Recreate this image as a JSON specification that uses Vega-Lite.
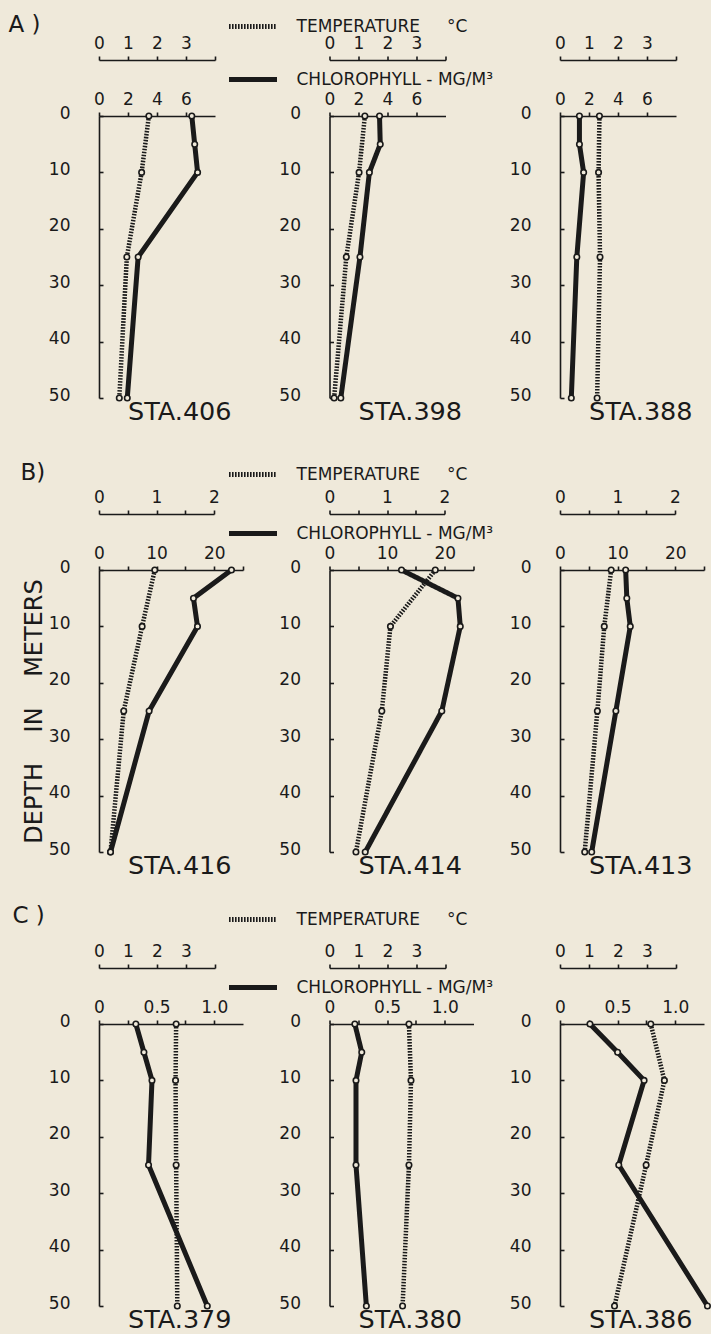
{
  "$schema": "https://vega.github.io/schema/vega-lite/v6.json",
  "background": "#efe9da",
  "padding": {"left": 8, "top": 0, "right": 0, "bottom": 0},
  "datasets": {
    "profiles": [
      {"sta": "STA.406", "var": "chlorophyll", "depth": 0, "value": 6.4},
      {"sta": "STA.406", "var": "chlorophyll", "depth": 5, "value": 6.6},
      {"sta": "STA.406", "var": "chlorophyll", "depth": 10, "value": 6.8},
      {"sta": "STA.406", "var": "chlorophyll", "depth": 25, "value": 2.7},
      {"sta": "STA.406", "var": "chlorophyll", "depth": 50, "value": 1.95},
      {"sta": "STA.406", "var": "temperature", "depth": 0, "value": 1.72},
      {"sta": "STA.406", "var": "temperature", "depth": 10, "value": 1.47},
      {"sta": "STA.406", "var": "temperature", "depth": 25, "value": 0.96},
      {"sta": "STA.406", "var": "temperature", "depth": 50, "value": 0.7},
      {"sta": "STA.398", "var": "chlorophyll", "depth": 0, "value": 3.45},
      {"sta": "STA.398", "var": "chlorophyll", "depth": 5, "value": 3.5},
      {"sta": "STA.398", "var": "chlorophyll", "depth": 10, "value": 2.75},
      {"sta": "STA.398", "var": "chlorophyll", "depth": 25, "value": 2.1},
      {"sta": "STA.398", "var": "chlorophyll", "depth": 50, "value": 0.78},
      {"sta": "STA.398", "var": "temperature", "depth": 0, "value": 1.22},
      {"sta": "STA.398", "var": "temperature", "depth": 10, "value": 1.02},
      {"sta": "STA.398", "var": "temperature", "depth": 25, "value": 0.58},
      {"sta": "STA.398", "var": "temperature", "depth": 50, "value": 0.16},
      {"sta": "STA.388", "var": "chlorophyll", "depth": 0, "value": 1.34},
      {"sta": "STA.388", "var": "chlorophyll", "depth": 5, "value": 1.34},
      {"sta": "STA.388", "var": "chlorophyll", "depth": 10, "value": 1.63},
      {"sta": "STA.388", "var": "chlorophyll", "depth": 25, "value": 1.16},
      {"sta": "STA.388", "var": "chlorophyll", "depth": 50, "value": 0.78},
      {"sta": "STA.388", "var": "temperature", "depth": 0, "value": 1.36},
      {"sta": "STA.388", "var": "temperature", "depth": 10, "value": 1.33},
      {"sta": "STA.388", "var": "temperature", "depth": 25, "value": 1.38},
      {"sta": "STA.388", "var": "temperature", "depth": 50, "value": 1.28},
      {"sta": "STA.416", "var": "chlorophyll", "depth": 0, "value": 23.0},
      {"sta": "STA.416", "var": "chlorophyll", "depth": 5, "value": 16.4},
      {"sta": "STA.416", "var": "chlorophyll", "depth": 10, "value": 17.1},
      {"sta": "STA.416", "var": "chlorophyll", "depth": 25, "value": 8.7},
      {"sta": "STA.416", "var": "chlorophyll", "depth": 50, "value": 2.0},
      {"sta": "STA.416", "var": "temperature", "depth": 0, "value": 0.97},
      {"sta": "STA.416", "var": "temperature", "depth": 10, "value": 0.75},
      {"sta": "STA.416", "var": "temperature", "depth": 25, "value": 0.43},
      {"sta": "STA.416", "var": "temperature", "depth": 50, "value": 0.2},
      {"sta": "STA.414", "var": "chlorophyll", "depth": 0, "value": 12.5},
      {"sta": "STA.414", "var": "chlorophyll", "depth": 5, "value": 22.3},
      {"sta": "STA.414", "var": "chlorophyll", "depth": 10, "value": 22.7},
      {"sta": "STA.414", "var": "chlorophyll", "depth": 25, "value": 19.5},
      {"sta": "STA.414", "var": "chlorophyll", "depth": 50, "value": 6.2},
      {"sta": "STA.414", "var": "temperature", "depth": 0, "value": 1.84},
      {"sta": "STA.414", "var": "temperature", "depth": 10, "value": 1.06},
      {"sta": "STA.414", "var": "temperature", "depth": 25, "value": 0.91},
      {"sta": "STA.414", "var": "temperature", "depth": 50, "value": 0.46},
      {"sta": "STA.413", "var": "chlorophyll", "depth": 0, "value": 11.4},
      {"sta": "STA.413", "var": "chlorophyll", "depth": 5, "value": 11.6},
      {"sta": "STA.413", "var": "chlorophyll", "depth": 10, "value": 12.2},
      {"sta": "STA.413", "var": "chlorophyll", "depth": 25, "value": 9.7},
      {"sta": "STA.413", "var": "chlorophyll", "depth": 50, "value": 5.5},
      {"sta": "STA.413", "var": "temperature", "depth": 0, "value": 0.89},
      {"sta": "STA.413", "var": "temperature", "depth": 10, "value": 0.77},
      {"sta": "STA.413", "var": "temperature", "depth": 25, "value": 0.65},
      {"sta": "STA.413", "var": "temperature", "depth": 50, "value": 0.43},
      {"sta": "STA.379", "var": "chlorophyll", "depth": 0, "value": 0.32},
      {"sta": "STA.379", "var": "chlorophyll", "depth": 5, "value": 0.39},
      {"sta": "STA.379", "var": "chlorophyll", "depth": 10, "value": 0.46},
      {"sta": "STA.379", "var": "chlorophyll", "depth": 25, "value": 0.43},
      {"sta": "STA.379", "var": "chlorophyll", "depth": 50, "value": 0.94},
      {"sta": "STA.379", "var": "temperature", "depth": 0, "value": 2.66},
      {"sta": "STA.379", "var": "temperature", "depth": 10, "value": 2.64},
      {"sta": "STA.379", "var": "temperature", "depth": 25, "value": 2.66},
      {"sta": "STA.379", "var": "temperature", "depth": 50, "value": 2.7},
      {"sta": "STA.380", "var": "chlorophyll", "depth": 0, "value": 0.22},
      {"sta": "STA.380", "var": "chlorophyll", "depth": 5, "value": 0.28},
      {"sta": "STA.380", "var": "chlorophyll", "depth": 10, "value": 0.23},
      {"sta": "STA.380", "var": "chlorophyll", "depth": 25, "value": 0.23},
      {"sta": "STA.380", "var": "chlorophyll", "depth": 50, "value": 0.32},
      {"sta": "STA.380", "var": "temperature", "depth": 0, "value": 2.74},
      {"sta": "STA.380", "var": "temperature", "depth": 10, "value": 2.81},
      {"sta": "STA.380", "var": "temperature", "depth": 25, "value": 2.74},
      {"sta": "STA.380", "var": "temperature", "depth": 50, "value": 2.52},
      {"sta": "STA.386", "var": "chlorophyll", "depth": 0, "value": 0.26},
      {"sta": "STA.386", "var": "chlorophyll", "depth": 5, "value": 0.5},
      {"sta": "STA.386", "var": "chlorophyll", "depth": 10, "value": 0.73},
      {"sta": "STA.386", "var": "chlorophyll", "depth": 25, "value": 0.51},
      {"sta": "STA.386", "var": "chlorophyll", "depth": 50, "value": 1.28},
      {"sta": "STA.386", "var": "temperature", "depth": 0, "value": 3.13},
      {"sta": "STA.386", "var": "temperature", "depth": 10, "value": 3.6},
      {"sta": "STA.386", "var": "temperature", "depth": 25, "value": 2.97},
      {"sta": "STA.386", "var": "temperature", "depth": 50, "value": 1.88}
    ]
  },
  "data": {"name": "profiles"},
  "config": {
    "view": {"stroke": null},
    "font": "DejaVu Sans",
    "axis": {
      "grid": false, "domainColor": "#1a1a1a", "domainWidth": 1.6,
      "tickColor": "#1a1a1a", "tickWidth": 1.6, "labelColor": "#1a1a1a",
      "labelFont": "DejaVu Sans", "labelFontSize": 17, "labelFlush": false,
      "labelOverlap": false, "titleColor": "#1a1a1a", "titleFont": "DejaVu Sans",
      "titleFontWeight": "normal"
    },
    "axisTop": {"tickSize": 4, "labelPadding": 4},
    "axisLeft": {"tickSize": -4, "labelPadding": 33, "labelOffset": -3},
    "title": {
      "orient": "bottom", "anchor": "start", "frame": "group", "dx": 29, "offset": -8,
      "fontSize": 25.5, "fontWeight": "normal", "font": "DejaVu Sans", "color": "#1a1a1a"
    }
  },
  "spacing": 454,
  "bounds": "flush",
  "resolve": {
    "scale": {"x": "independent", "y": "independent", "strokeDash": "independent"},
    "legend": {"strokeDash": "independent"}
  },
  "vconcat": [
    {
      "spacing": 114.5,
      "bounds": "flush",
      "resolve": {
        "scale": {"x": "independent", "y": "independent", "strokeDash": "independent"},
        "legend": {"strokeDash": "independent"}
      },
      "hconcat": [
        {
          "width": 116, "height": 282,
          "title": {"text": "STA.406"},
          "transform": [{"filter": "datum.sta === 'STA.406'"}],
          "layer": [
            {
              "transform": [{"filter": "datum.var === 'temperature'"}],
              "encoding": {
                "x": {"field": "value", "type": "quantitative", "scale": {"domain": [0, 4], "nice": false, "zero": false},
                      "axis": {"orient": "top", "offset": 56, "values": [0, 1, 2, 3, 4], "labelExpr": "datum.value == 4 ? '' : datum.label",
                               "title": "A )", "titleX": -91, "titleY": -29, "titleAlign": "left", "titleAngle": 0, "titleBaseline": "alphabetic", "titleFontSize": 23}},
                "y": {"field": "depth", "type": "quantitative", "scale": {"domain": [0, 50], "reverse": true, "nice": false, "zero": false},
                      "axis": {"values": [0, 10, 20, 30, 40, 50], "title": null}},
                "order": {"field": "depth", "type": "quantitative"}
              },
              "layer": [
                {"mark": {"type": "line", "color": "#1a1a1a", "strokeWidth": 4.5, "strokeDash": [1.6, 1.4]}},
                {"mark": {"type": "point", "shape": "circle", "filled": true, "fill": "#efe9da", "stroke": "#1a1a1a", "strokeWidth": 1.6, "size": 30, "opacity": 1}}
              ]
            },
            {
              "transform": [{"filter": "datum.var === 'chlorophyll'"}],
              "encoding": {
                "x": {"field": "value", "type": "quantitative", "scale": {"domain": [0, 8], "nice": false, "zero": false},
                      "axis": {"orient": "top", "offset": 0, "values": [0, 2, 4, 6], "title": null}},
                "y": {"field": "depth", "type": "quantitative", "scale": {"domain": [0, 50], "reverse": true, "nice": false, "zero": false},
                      "axis": {"values": [0, 10, 20, 30, 40, 50], "title": null}},
                "order": {"field": "depth", "type": "quantitative"}
              },
              "layer": [
                {"mark": {"type": "line", "color": "#1a1a1a", "strokeWidth": 5}},
                {"mark": {"type": "point", "shape": "circle", "filled": true, "fill": "#efe9da", "stroke": "#1a1a1a", "strokeWidth": 1.6, "size": 30, "opacity": 1}}
              ]
            }
          ],
          "resolve": {"scale": {"x": "independent"}, "axis": {"x": "independent"}}
        },
        {
          "width": 116, "height": 282,
          "title": {"text": "STA.398"},
          "transform": [{"filter": "datum.sta === 'STA.398'"}],
          "layer": [
            {
              "transform": [{"filter": "datum.var === 'temperature'"}],
              "encoding": {
                "x": {"field": "value", "type": "quantitative", "scale": {"domain": [0, 4], "nice": false, "zero": false},
                      "axis": {"orient": "top", "offset": 56, "values": [0, 1, 2, 3, 4], "labelExpr": "datum.value == 4 ? '' : datum.label", "title": null}},
                "y": {"field": "depth", "type": "quantitative", "scale": {"domain": [0, 50], "reverse": true, "nice": false, "zero": false},
                      "axis": {"values": [0, 10, 20, 30, 40, 50], "title": null}},
                "order": {"field": "depth", "type": "quantitative"}
              },
              "layer": [
                {"mark": {"type": "line", "color": "#1a1a1a", "strokeWidth": 4.5, "strokeDash": [1.6, 1.4]},
                 "encoding": {"strokeDash": {"field": "var", "type": "nominal",
                   "scale": {"domain": ["temperature", "chlorophyll"], "range": [[1.6, 1.4], [1, 0]]},
                   "legend": {"orient": "none", "legendX": -103, "legendY": -116, "title": null, "direction": "vertical",
                              "symbolType": "stroke", "symbolSize": 2304, "symbolStrokeWidth": 5, "symbolStrokeColor": "#1a1a1a",
                              "labelFontSize": 17, "labelFont": "DejaVu Sans", "labelColor": "#1a1a1a", "labelOffset": 17,
                              "labelLimit": 400, "rowPadding": 16, "padding": 0,
                              "labelExpr": "datum.value === 'temperature' ? 'TEMPERATURE\u00a0\u00a0\u00a0\u00a0\u00a0°C' : 'CHLOROPHYLL\u00a0-\u00a0MG/M³'"}}}},
                {"mark": {"type": "point", "shape": "circle", "filled": true, "fill": "#efe9da", "stroke": "#1a1a1a", "strokeWidth": 1.6, "size": 30, "opacity": 1}}
              ]
            },
            {
              "transform": [{"filter": "datum.var === 'chlorophyll'"}],
              "encoding": {
                "x": {"field": "value", "type": "quantitative", "scale": {"domain": [0, 8], "nice": false, "zero": false},
                      "axis": {"orient": "top", "offset": 0, "values": [0, 2, 4, 6], "title": null}},
                "y": {"field": "depth", "type": "quantitative", "scale": {"domain": [0, 50], "reverse": true, "nice": false, "zero": false},
                      "axis": {"values": [0, 10, 20, 30, 40, 50], "title": null}},
                "order": {"field": "depth", "type": "quantitative"}
              },
              "layer": [
                {"mark": {"type": "line", "color": "#1a1a1a", "strokeWidth": 5},
                 "encoding": {"strokeDash": {"field": "var", "type": "nominal",
                   "scale": {"domain": ["temperature", "chlorophyll"], "range": [[1.6, 1.4], [1, 0]]},
                   "legend": {"orient": "none", "legendX": -103, "legendY": -116, "title": null, "direction": "vertical",
                              "symbolType": "stroke", "symbolSize": 2304, "symbolStrokeWidth": 5, "symbolStrokeColor": "#1a1a1a",
                              "labelFontSize": 17, "labelFont": "DejaVu Sans", "labelColor": "#1a1a1a", "labelOffset": 17,
                              "labelLimit": 400, "rowPadding": 16, "padding": 0,
                              "labelExpr": "datum.value === 'temperature' ? 'TEMPERATURE\u00a0\u00a0\u00a0\u00a0\u00a0°C' : 'CHLOROPHYLL\u00a0-\u00a0MG/M³'"}}}},
                {"mark": {"type": "point", "shape": "circle", "filled": true, "fill": "#efe9da", "stroke": "#1a1a1a", "strokeWidth": 1.6, "size": 30, "opacity": 1}}
              ]
            }
          ],
          "resolve": {"scale": {"x": "independent"}, "axis": {"x": "independent"}}
        },
        {
          "width": 116, "height": 282,
          "title": {"text": "STA.388"},
          "transform": [{"filter": "datum.sta === 'STA.388'"}],
          "layer": [
            {
              "transform": [{"filter": "datum.var === 'temperature'"}],
              "encoding": {
                "x": {"field": "value", "type": "quantitative", "scale": {"domain": [0, 4], "nice": false, "zero": false},
                      "axis": {"orient": "top", "offset": 56, "values": [0, 1, 2, 3, 4], "labelExpr": "datum.value == 4 ? '' : datum.label", "title": null}},
                "y": {"field": "depth", "type": "quantitative", "scale": {"domain": [0, 50], "reverse": true, "nice": false, "zero": false},
                      "axis": {"values": [0, 10, 20, 30, 40, 50], "title": null}},
                "order": {"field": "depth", "type": "quantitative"}
              },
              "layer": [
                {"mark": {"type": "line", "color": "#1a1a1a", "strokeWidth": 4.5, "strokeDash": [1.6, 1.4]}},
                {"mark": {"type": "point", "shape": "circle", "filled": true, "fill": "#efe9da", "stroke": "#1a1a1a", "strokeWidth": 1.6, "size": 30, "opacity": 1}}
              ]
            },
            {
              "transform": [{"filter": "datum.var === 'chlorophyll'"}],
              "encoding": {
                "x": {"field": "value", "type": "quantitative", "scale": {"domain": [0, 8], "nice": false, "zero": false},
                      "axis": {"orient": "top", "offset": 0, "values": [0, 2, 4, 6], "title": null}},
                "y": {"field": "depth", "type": "quantitative", "scale": {"domain": [0, 50], "reverse": true, "nice": false, "zero": false},
                      "axis": {"values": [0, 10, 20, 30, 40, 50], "title": null}},
                "order": {"field": "depth", "type": "quantitative"}
              },
              "layer": [
                {"mark": {"type": "line", "color": "#1a1a1a", "strokeWidth": 5}},
                {"mark": {"type": "point", "shape": "circle", "filled": true, "fill": "#efe9da", "stroke": "#1a1a1a", "strokeWidth": 1.6, "size": 30, "opacity": 1}}
              ]
            }
          ],
          "resolve": {"scale": {"x": "independent"}, "axis": {"x": "independent"}}
        }
      ]
    },
    {
      "spacing": 86.5,
      "bounds": "flush",
      "resolve": {
        "scale": {"x": "independent", "y": "independent", "strokeDash": "independent"},
        "legend": {"strokeDash": "independent"}
      },
      "hconcat": [
        {
          "width": 144, "height": 282,
          "title": {"text": "STA.416"},
          "transform": [{"filter": "datum.sta === 'STA.416'"}],
          "layer": [
            {
              "transform": [{"filter": "datum.var === 'temperature'"}],
              "encoding": {
                "x": {"field": "value", "type": "quantitative", "scale": {"domain": [0, 2], "range": [0, 115], "nice": false, "zero": false},
                      "axis": {"orient": "top", "offset": 56, "values": [0, 0.5, 1, 1.5, 2], "labelExpr": "datum.value == 0 ? '0' : datum.value == 1 ? '1' : datum.value == 2 ? '2' : ''",
                               "title": "B)", "titleX": -79, "titleY": -35, "titleAlign": "left", "titleAngle": 0, "titleBaseline": "alphabetic", "titleFontSize": 23}},
                "y": {"field": "depth", "type": "quantitative", "scale": {"domain": [0, 50], "reverse": true, "nice": false, "zero": false},
                      "axis": {"values": [0, 10, 20, 30, 40, 50], "title": "DEPTH\u00a0\u00a0\u00a0\u00a0IN\u00a0\u00a0\u00a0\u00a0METERS", "titleFontSize": 24, "titlePadding": 2}},
                "order": {"field": "depth", "type": "quantitative"}
              },
              "layer": [
                {"mark": {"type": "line", "color": "#1a1a1a", "strokeWidth": 4.5, "strokeDash": [1.6, 1.4]}},
                {"mark": {"type": "point", "shape": "circle", "filled": true, "fill": "#efe9da", "stroke": "#1a1a1a", "strokeWidth": 1.6, "size": 30, "opacity": 1}}
              ]
            },
            {
              "transform": [{"filter": "datum.var === 'chlorophyll'"}],
              "encoding": {
                "x": {"field": "value", "type": "quantitative", "scale": {"domain": [0, 25], "nice": false, "zero": false},
                      "axis": {"orient": "top", "offset": 0, "values": [0, 5, 10, 15, 20, 25], "labelExpr": "datum.value % 10 == 0 ? datum.label : ''", "title": null}},
                "y": {"field": "depth", "type": "quantitative", "scale": {"domain": [0, 50], "reverse": true, "nice": false, "zero": false},
                      "axis": {"values": [0, 10, 20, 30, 40, 50], "title": "DEPTH\u00a0\u00a0\u00a0\u00a0IN\u00a0\u00a0\u00a0\u00a0METERS", "titleFontSize": 24, "titlePadding": 2}},
                "order": {"field": "depth", "type": "quantitative"}
              },
              "layer": [
                {"mark": {"type": "line", "color": "#1a1a1a", "strokeWidth": 5}},
                {"mark": {"type": "point", "shape": "circle", "filled": true, "fill": "#efe9da", "stroke": "#1a1a1a", "strokeWidth": 1.6, "size": 30, "opacity": 1}}
              ]
            }
          ],
          "resolve": {"scale": {"x": "independent"}, "axis": {"x": "independent"}}
        },
        {
          "width": 144, "height": 282,
          "title": {"text": "STA.414"},
          "transform": [{"filter": "datum.sta === 'STA.414'"}],
          "layer": [
            {
              "transform": [{"filter": "datum.var === 'temperature'"}],
              "encoding": {
                "x": {"field": "value", "type": "quantitative", "scale": {"domain": [0, 2], "range": [0, 115], "nice": false, "zero": false},
                      "axis": {"orient": "top", "offset": 56, "values": [0, 0.5, 1, 1.5, 2], "labelExpr": "datum.value == 0 ? '0' : datum.value == 1 ? '1' : datum.value == 2 ? '2' : ''", "title": null}},
                "y": {"field": "depth", "type": "quantitative", "scale": {"domain": [0, 50], "reverse": true, "nice": false, "zero": false},
                      "axis": {"values": [0, 10, 20, 30, 40, 50], "title": null}},
                "order": {"field": "depth", "type": "quantitative"}
              },
              "layer": [
                {"mark": {"type": "line", "color": "#1a1a1a", "strokeWidth": 4.5, "strokeDash": [1.6, 1.4]},
                 "encoding": {"strokeDash": {"field": "var", "type": "nominal",
                   "scale": {"domain": ["temperature", "chlorophyll"], "range": [[1.6, 1.4], [1, 0]]},
                   "legend": {"orient": "none", "legendX": -103, "legendY": -122, "title": null, "direction": "vertical",
                              "symbolType": "stroke", "symbolSize": 2304, "symbolStrokeWidth": 5, "symbolStrokeColor": "#1a1a1a",
                              "labelFontSize": 17, "labelFont": "DejaVu Sans", "labelColor": "#1a1a1a", "labelOffset": 17,
                              "labelLimit": 400, "rowPadding": 22, "padding": 0,
                              "labelExpr": "datum.value === 'temperature' ? 'TEMPERATURE\u00a0\u00a0\u00a0\u00a0\u00a0°C' : 'CHLOROPHYLL\u00a0-\u00a0MG/M³'"}}}},
                {"mark": {"type": "point", "shape": "circle", "filled": true, "fill": "#efe9da", "stroke": "#1a1a1a", "strokeWidth": 1.6, "size": 30, "opacity": 1}}
              ]
            },
            {
              "transform": [{"filter": "datum.var === 'chlorophyll'"}],
              "encoding": {
                "x": {"field": "value", "type": "quantitative", "scale": {"domain": [0, 25], "nice": false, "zero": false},
                      "axis": {"orient": "top", "offset": 0, "values": [0, 5, 10, 15, 20, 25], "labelExpr": "datum.value % 10 == 0 ? datum.label : ''", "title": null}},
                "y": {"field": "depth", "type": "quantitative", "scale": {"domain": [0, 50], "reverse": true, "nice": false, "zero": false},
                      "axis": {"values": [0, 10, 20, 30, 40, 50], "title": null}},
                "order": {"field": "depth", "type": "quantitative"}
              },
              "layer": [
                {"mark": {"type": "line", "color": "#1a1a1a", "strokeWidth": 5},
                 "encoding": {"strokeDash": {"field": "var", "type": "nominal",
                   "scale": {"domain": ["temperature", "chlorophyll"], "range": [[1.6, 1.4], [1, 0]]},
                   "legend": {"orient": "none", "legendX": -103, "legendY": -122, "title": null, "direction": "vertical",
                              "symbolType": "stroke", "symbolSize": 2304, "symbolStrokeWidth": 5, "symbolStrokeColor": "#1a1a1a",
                              "labelFontSize": 17, "labelFont": "DejaVu Sans", "labelColor": "#1a1a1a", "labelOffset": 17,
                              "labelLimit": 400, "rowPadding": 22, "padding": 0,
                              "labelExpr": "datum.value === 'temperature' ? 'TEMPERATURE\u00a0\u00a0\u00a0\u00a0\u00a0°C' : 'CHLOROPHYLL\u00a0-\u00a0MG/M³'"}}}},
                {"mark": {"type": "point", "shape": "circle", "filled": true, "fill": "#efe9da", "stroke": "#1a1a1a", "strokeWidth": 1.6, "size": 30, "opacity": 1}}
              ]
            }
          ],
          "resolve": {"scale": {"x": "independent"}, "axis": {"x": "independent"}}
        },
        {
          "width": 144, "height": 282,
          "title": {"text": "STA.413"},
          "transform": [{"filter": "datum.sta === 'STA.413'"}],
          "layer": [
            {
              "transform": [{"filter": "datum.var === 'temperature'"}],
              "encoding": {
                "x": {"field": "value", "type": "quantitative", "scale": {"domain": [0, 2], "range": [0, 115], "nice": false, "zero": false},
                      "axis": {"orient": "top", "offset": 56, "values": [0, 0.5, 1, 1.5, 2], "labelExpr": "datum.value == 0 ? '0' : datum.value == 1 ? '1' : datum.value == 2 ? '2' : ''", "title": null}},
                "y": {"field": "depth", "type": "quantitative", "scale": {"domain": [0, 50], "reverse": true, "nice": false, "zero": false},
                      "axis": {"values": [0, 10, 20, 30, 40, 50], "title": null}},
                "order": {"field": "depth", "type": "quantitative"}
              },
              "layer": [
                {"mark": {"type": "line", "color": "#1a1a1a", "strokeWidth": 4.5, "strokeDash": [1.6, 1.4]}},
                {"mark": {"type": "point", "shape": "circle", "filled": true, "fill": "#efe9da", "stroke": "#1a1a1a", "strokeWidth": 1.6, "size": 30, "opacity": 1}}
              ]
            },
            {
              "transform": [{"filter": "datum.var === 'chlorophyll'"}],
              "encoding": {
                "x": {"field": "value", "type": "quantitative", "scale": {"domain": [0, 25], "nice": false, "zero": false},
                      "axis": {"orient": "top", "offset": 0, "values": [0, 5, 10, 15, 20, 25], "labelExpr": "datum.value % 10 == 0 ? datum.label : ''", "title": null}},
                "y": {"field": "depth", "type": "quantitative", "scale": {"domain": [0, 50], "reverse": true, "nice": false, "zero": false},
                      "axis": {"values": [0, 10, 20, 30, 40, 50], "title": null}},
                "order": {"field": "depth", "type": "quantitative"}
              },
              "layer": [
                {"mark": {"type": "line", "color": "#1a1a1a", "strokeWidth": 5}},
                {"mark": {"type": "point", "shape": "circle", "filled": true, "fill": "#efe9da", "stroke": "#1a1a1a", "strokeWidth": 1.6, "size": 30, "opacity": 1}}
              ]
            }
          ],
          "resolve": {"scale": {"x": "independent"}, "axis": {"x": "independent"}}
        }
      ]
    },
    {
      "spacing": 86.5,
      "bounds": "flush",
      "resolve": {
        "scale": {"x": "independent", "y": "independent", "strokeDash": "independent"},
        "legend": {"strokeDash": "independent"}
      },
      "hconcat": [
        {
          "width": 144, "height": 282,
          "title": {"text": "STA.379"},
          "transform": [{"filter": "datum.sta === 'STA.379'"}],
          "layer": [
            {
              "transform": [{"filter": "datum.var === 'temperature'"}],
              "encoding": {
                "x": {"field": "value", "type": "quantitative", "scale": {"domain": [0, 4], "range": [0, 116], "nice": false, "zero": false},
                      "axis": {"orient": "top", "offset": 56, "values": [0, 1, 2, 3, 4], "labelExpr": "datum.value == 4 ? '' : datum.label",
                               "title": "C )", "titleX": -87, "titleY": -46, "titleAlign": "left", "titleAngle": 0, "titleBaseline": "alphabetic", "titleFontSize": 23}},
                "y": {"field": "depth", "type": "quantitative", "scale": {"domain": [0, 50], "reverse": true, "nice": false, "zero": false},
                      "axis": {"values": [0, 10, 20, 30, 40, 50], "title": null}},
                "order": {"field": "depth", "type": "quantitative"}
              },
              "layer": [
                {"mark": {"type": "line", "color": "#1a1a1a", "strokeWidth": 4.5, "strokeDash": [1.6, 1.4]}},
                {"mark": {"type": "point", "shape": "circle", "filled": true, "fill": "#efe9da", "stroke": "#1a1a1a", "strokeWidth": 1.6, "size": 30, "opacity": 1}}
              ]
            },
            {
              "transform": [{"filter": "datum.var === 'chlorophyll'"}],
              "encoding": {
                "x": {"field": "value", "type": "quantitative", "scale": {"domain": [0, 1.25], "nice": false, "zero": false},
                      "axis": {"orient": "top", "offset": 0, "values": [0, 0.25, 0.5, 0.75, 1], "labelExpr": "datum.value == 0 ? '0' : datum.value == 0.5 ? '0.5' : datum.value == 1 ? '1.0' : ''", "title": null}},
                "y": {"field": "depth", "type": "quantitative", "scale": {"domain": [0, 50], "reverse": true, "nice": false, "zero": false},
                      "axis": {"values": [0, 10, 20, 30, 40, 50], "title": null}},
                "order": {"field": "depth", "type": "quantitative"}
              },
              "layer": [
                {"mark": {"type": "line", "color": "#1a1a1a", "strokeWidth": 5}},
                {"mark": {"type": "point", "shape": "circle", "filled": true, "fill": "#efe9da", "stroke": "#1a1a1a", "strokeWidth": 1.6, "size": 30, "opacity": 1}}
              ]
            }
          ],
          "resolve": {"scale": {"x": "independent"}, "axis": {"x": "independent"}}
        },
        {
          "width": 144, "height": 282,
          "title": {"text": "STA.380"},
          "transform": [{"filter": "datum.sta === 'STA.380'"}],
          "layer": [
            {
              "transform": [{"filter": "datum.var === 'temperature'"}],
              "encoding": {
                "x": {"field": "value", "type": "quantitative", "scale": {"domain": [0, 4], "range": [0, 116], "nice": false, "zero": false},
                      "axis": {"orient": "top", "offset": 56, "values": [0, 1, 2, 3, 4], "labelExpr": "datum.value == 4 ? '' : datum.label", "title": null}},
                "y": {"field": "depth", "type": "quantitative", "scale": {"domain": [0, 50], "reverse": true, "nice": false, "zero": false},
                      "axis": {"values": [0, 10, 20, 30, 40, 50], "title": null}},
                "order": {"field": "depth", "type": "quantitative"}
              },
              "layer": [
                {"mark": {"type": "line", "color": "#1a1a1a", "strokeWidth": 4.5, "strokeDash": [1.6, 1.4]},
                 "encoding": {"strokeDash": {"field": "var", "type": "nominal",
                   "scale": {"domain": ["temperature", "chlorophyll"], "range": [[1.6, 1.4], [1, 0]]},
                   "legend": {"orient": "none", "legendX": -103, "legendY": -131, "title": null, "direction": "vertical",
                              "symbolType": "stroke", "symbolSize": 2304, "symbolStrokeWidth": 5, "symbolStrokeColor": "#1a1a1a",
                              "labelFontSize": 17, "labelFont": "DejaVu Sans", "labelColor": "#1a1a1a", "labelOffset": 17,
                              "labelLimit": 400, "rowPadding": 31, "padding": 0,
                              "labelExpr": "datum.value === 'temperature' ? 'TEMPERATURE\u00a0\u00a0\u00a0\u00a0\u00a0°C' : 'CHLOROPHYLL\u00a0-\u00a0MG/M³'"}}}},
                {"mark": {"type": "point", "shape": "circle", "filled": true, "fill": "#efe9da", "stroke": "#1a1a1a", "strokeWidth": 1.6, "size": 30, "opacity": 1}}
              ]
            },
            {
              "transform": [{"filter": "datum.var === 'chlorophyll'"}],
              "encoding": {
                "x": {"field": "value", "type": "quantitative", "scale": {"domain": [0, 1.25], "nice": false, "zero": false},
                      "axis": {"orient": "top", "offset": 0, "values": [0, 0.25, 0.5, 0.75, 1], "labelExpr": "datum.value == 0 ? '0' : datum.value == 0.5 ? '0.5' : datum.value == 1 ? '1.0' : ''", "title": null}},
                "y": {"field": "depth", "type": "quantitative", "scale": {"domain": [0, 50], "reverse": true, "nice": false, "zero": false},
                      "axis": {"values": [0, 10, 20, 30, 40, 50], "title": null}},
                "order": {"field": "depth", "type": "quantitative"}
              },
              "layer": [
                {"mark": {"type": "line", "color": "#1a1a1a", "strokeWidth": 5},
                 "encoding": {"strokeDash": {"field": "var", "type": "nominal",
                   "scale": {"domain": ["temperature", "chlorophyll"], "range": [[1.6, 1.4], [1, 0]]},
                   "legend": {"orient": "none", "legendX": -103, "legendY": -131, "title": null, "direction": "vertical",
                              "symbolType": "stroke", "symbolSize": 2304, "symbolStrokeWidth": 5, "symbolStrokeColor": "#1a1a1a",
                              "labelFontSize": 17, "labelFont": "DejaVu Sans", "labelColor": "#1a1a1a", "labelOffset": 17,
                              "labelLimit": 400, "rowPadding": 31, "padding": 0,
                              "labelExpr": "datum.value === 'temperature' ? 'TEMPERATURE\u00a0\u00a0\u00a0\u00a0\u00a0°C' : 'CHLOROPHYLL\u00a0-\u00a0MG/M³'"}}}},
                {"mark": {"type": "point", "shape": "circle", "filled": true, "fill": "#efe9da", "stroke": "#1a1a1a", "strokeWidth": 1.6, "size": 30, "opacity": 1}}
              ]
            }
          ],
          "resolve": {"scale": {"x": "independent"}, "axis": {"x": "independent"}}
        },
        {
          "width": 144, "height": 282,
          "title": {"text": "STA.386"},
          "transform": [{"filter": "datum.sta === 'STA.386'"}],
          "layer": [
            {
              "transform": [{"filter": "datum.var === 'temperature'"}],
              "encoding": {
                "x": {"field": "value", "type": "quantitative", "scale": {"domain": [0, 4], "range": [0, 116], "nice": false, "zero": false},
                      "axis": {"orient": "top", "offset": 56, "values": [0, 1, 2, 3, 4], "labelExpr": "datum.value == 4 ? '' : datum.label", "title": null}},
                "y": {"field": "depth", "type": "quantitative", "scale": {"domain": [0, 50], "reverse": true, "nice": false, "zero": false},
                      "axis": {"values": [0, 10, 20, 30, 40, 50], "title": null}},
                "order": {"field": "depth", "type": "quantitative"}
              },
              "layer": [
                {"mark": {"type": "line", "color": "#1a1a1a", "strokeWidth": 4.5, "strokeDash": [1.6, 1.4]}},
                {"mark": {"type": "point", "shape": "circle", "filled": true, "fill": "#efe9da", "stroke": "#1a1a1a", "strokeWidth": 1.6, "size": 30, "opacity": 1}}
              ]
            },
            {
              "transform": [{"filter": "datum.var === 'chlorophyll'"}],
              "encoding": {
                "x": {"field": "value", "type": "quantitative", "scale": {"domain": [0, 1.25], "nice": false, "zero": false},
                      "axis": {"orient": "top", "offset": 0, "values": [0, 0.25, 0.5, 0.75, 1], "labelExpr": "datum.value == 0 ? '0' : datum.value == 0.5 ? '0.5' : datum.value == 1 ? '1.0' : ''", "title": null}},
                "y": {"field": "depth", "type": "quantitative", "scale": {"domain": [0, 50], "reverse": true, "nice": false, "zero": false},
                      "axis": {"values": [0, 10, 20, 30, 40, 50], "title": null}},
                "order": {"field": "depth", "type": "quantitative"}
              },
              "layer": [
                {"mark": {"type": "line", "color": "#1a1a1a", "strokeWidth": 5}},
                {"mark": {"type": "point", "shape": "circle", "filled": true, "fill": "#efe9da", "stroke": "#1a1a1a", "strokeWidth": 1.6, "size": 30, "opacity": 1}}
              ]
            }
          ],
          "resolve": {"scale": {"x": "independent"}, "axis": {"x": "independent"}}
        }
      ]
    }
  ]
}
